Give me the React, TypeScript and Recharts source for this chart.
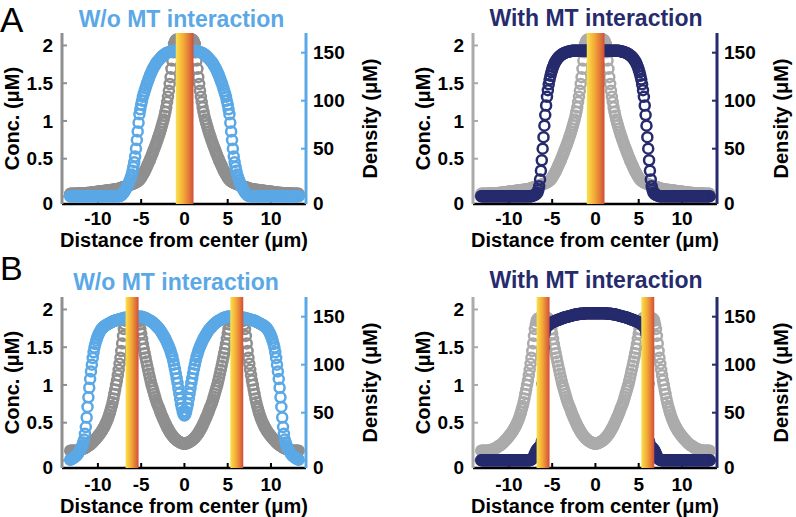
import React from 'react';
import { ScatterChart, Scatter, XAxis, YAxis, ReferenceArea } from 'recharts';

const FONT = '"Liberation Sans", Arial, Helvetica, sans-serif';

// distance from center (µm), shared by every series
const xs = [
  -13.2, -13.1, -13, -12.9, -12.8, -12.7, -12.6, -12.5, -12.4, -12.3,
  -12.2, -12.1, -12, -11.9, -11.8, -11.7, -11.6, -11.5, -11.4, -11.3,
  -11.2, -11.1, -11, -10.9, -10.8, -10.7, -10.6, -10.5, -10.4, -10.3,
  -10.2, -10.1, -10, -9.9, -9.8, -9.7, -9.6, -9.5, -9.4, -9.3,
  -9.2, -9.1, -9, -8.9, -8.8, -8.7, -8.6, -8.5, -8.4, -8.3,
  -8.2, -8.1, -8, -7.9, -7.8, -7.7, -7.6, -7.5, -7.4, -7.3,
  -7.2, -7.1, -7, -6.9, -6.8, -6.7, -6.6, -6.5, -6.4, -6.3,
  -6.2, -6.1, -6, -5.9, -5.8, -5.7, -5.6, -5.5, -5.4, -5.3,
  -5.2, -5.1, -5, -4.9, -4.8, -4.7, -4.6, -4.5, -4.4, -4.3,
  -4.2, -4.1, -4, -3.9, -3.8, -3.7, -3.6, -3.5, -3.4, -3.3,
  -3.2, -3.1, -3, -2.9, -2.8, -2.7, -2.6, -2.5, -2.4, -2.3,
  -2.2, -2.1, -2, -1.9, -1.8, -1.7, -1.6, -1.5, -1.4, -1.3,
  -1.2, -1.1, -1, -0.9, -0.8, -0.7, -0.6, -0.5, -0.4, -0.3,
  -0.2, -0.1,
  0,
  0.1, 0.2,
  0.3, 0.4, 0.5, 0.6, 0.7, 0.8, 0.9, 1, 1.1, 1.2,
  1.3, 1.4, 1.5, 1.6, 1.7, 1.8, 1.9, 2, 2.1, 2.2,
  2.3, 2.4, 2.5, 2.6, 2.7, 2.8, 2.9, 3, 3.1, 3.2,
  3.3, 3.4, 3.5, 3.6, 3.7, 3.8, 3.9, 4, 4.1, 4.2,
  4.3, 4.4, 4.5, 4.6, 4.7, 4.8, 4.9, 5, 5.1, 5.2,
  5.3, 5.4, 5.5, 5.6, 5.7, 5.8, 5.9, 6, 6.1, 6.2,
  6.3, 6.4, 6.5, 6.6, 6.7, 6.8, 6.9, 7, 7.1, 7.2,
  7.3, 7.4, 7.5, 7.6, 7.7, 7.8, 7.9, 8, 8.1, 8.2,
  8.3, 8.4, 8.5, 8.6, 8.7, 8.8, 8.9, 9, 9.1, 9.2,
  9.3, 9.4, 9.5, 9.6, 9.7, 9.8, 9.9, 10, 10.1, 10.2,
  10.3, 10.4, 10.5, 10.6, 10.7, 10.8, 10.9, 11, 11.1, 11.2,
  11.3, 11.4, 11.5, 11.6, 11.7, 11.8, 11.9, 12, 12.1, 12.2,
  12.3, 12.4, 12.5, 12.6, 12.7, 12.8, 12.9, 13, 13.1, 13.2,
];

// A: one MT at the center — concentration (µM)
const concA = [
  0.035, 0.035, 0.035, 0.035, 0.036, 0.036, 0.037, 0.037, 0.038, 0.038,
  0.039, 0.039, 0.04, 0.04, 0.041, 0.042, 0.042, 0.043, 0.044, 0.045,
  0.046, 0.047, 0.048, 0.049, 0.05, 0.051, 0.052, 0.054, 0.056, 0.058,
  0.06, 0.061, 0.063, 0.064, 0.066, 0.067, 0.069, 0.07, 0.072, 0.073,
  0.075, 0.076, 0.078, 0.079, 0.081, 0.082, 0.084, 0.085, 0.087, 0.088,
  0.09, 0.092, 0.094, 0.096, 0.098, 0.1, 0.103, 0.106, 0.11, 0.114,
  0.118, 0.122, 0.126, 0.13, 0.134, 0.138, 0.142, 0.146, 0.15, 0.154,
  0.158, 0.162, 0.166, 0.17, 0.175, 0.18, 0.186, 0.192, 0.2, 0.21,
  0.22, 0.235, 0.25, 0.27, 0.29, 0.31, 0.33, 0.355, 0.38, 0.405,
  0.43, 0.455, 0.48, 0.51, 0.54, 0.57, 0.6, 0.63, 0.66, 0.69,
  0.72, 0.755, 0.79, 0.825, 0.86, 0.9, 0.94, 0.98, 1.02, 1.07,
  1.12, 1.18, 1.25, 1.32, 1.4, 1.49, 1.58, 1.69, 1.8, 1.91,
  2.02, 2.05, 2.07, 2.08, 2.08, 2.08, 2.08, 2.08, 2.08, 2.08,
  2.08, 2.08,
  2.08,
  2.08, 2.08,
  2.08, 2.08, 2.08, 2.08, 2.08, 2.08, 2.08, 2.07, 2.05, 2.02,
  1.91, 1.8, 1.69, 1.58, 1.49, 1.4, 1.32, 1.25, 1.18, 1.12,
  1.07, 1.02, 0.98, 0.94, 0.9, 0.86, 0.825, 0.79, 0.755, 0.72,
  0.69, 0.66, 0.63, 0.6, 0.57, 0.54, 0.51, 0.48, 0.455, 0.43,
  0.405, 0.38, 0.355, 0.33, 0.31, 0.29, 0.27, 0.25, 0.235, 0.22,
  0.21, 0.2, 0.192, 0.186, 0.18, 0.175, 0.17, 0.166, 0.162, 0.158,
  0.154, 0.15, 0.146, 0.142, 0.138, 0.134, 0.13, 0.126, 0.122, 0.118,
  0.114, 0.11, 0.106, 0.103, 0.1, 0.098, 0.096, 0.094, 0.092, 0.09,
  0.088, 0.087, 0.085, 0.084, 0.082, 0.081, 0.079, 0.078, 0.076, 0.075,
  0.073, 0.072, 0.07, 0.069, 0.067, 0.066, 0.064, 0.063, 0.061, 0.06,
  0.058, 0.056, 0.054, 0.052, 0.051, 0.05, 0.049, 0.048, 0.047, 0.046,
  0.045, 0.044, 0.043, 0.042, 0.042, 0.041, 0.04, 0.04, 0.039, 0.039,
  0.038, 0.038, 0.037, 0.037, 0.036, 0.036, 0.035, 0.035, 0.035, 0.035,
];

// A: density (µM) without MT interaction
const densAwo = [
  0.5, 0.5, 0.5, 0.5, 0.5, 0.5, 0.5, 0.5, 0.5, 0.5,
  0.5, 0.5, 0.5, 0.5, 0.5, 0.5, 0.5, 0.5, 0.5, 0.5,
  0.5, 0.5, 0.5, 0.5, 0.5, 0.5, 0.5, 0.5, 0.5, 0.5,
  0.5, 0.5, 0.5, 0.5, 0.5, 0.5, 0.5, 0.5, 0.5, 0.5,
  0.5, 0.5, 0.5, 0.5, 0.5, 0.5, 0.5, 0.5, 0.5, 0.5,
  0.5, 0.5, 0.5, 0.5, 0.5, 0.5, 0.5, 0.7, 1, 1.5,
  2.5, 3.5, 4.5, 6, 7.5, 9, 11, 13, 15, 17.5,
  20, 23, 27, 31, 36, 42, 50, 59, 68, 77,
  86, 91, 96, 100, 104, 107, 110, 113, 116, 118.5,
  121, 123.5, 126, 128, 130, 132, 134, 135.5, 137, 138.5,
  140, 141, 142, 143, 144, 145, 146, 147, 147.5, 148.2,
  149, 149.5, 150, 150.2, 150.5, 150.8, 151, 151.2, 151.5, 151.8,
  152, 152, 152, 152, 152, 152, 152, 152, 152, 152,
  152, 152,
  152,
  152, 152,
  152, 152, 152, 152, 152, 152, 152, 152, 152, 152,
  151.8, 151.5, 151.2, 151, 150.8, 150.5, 150.2, 150, 149.5, 149,
  148.2, 147.5, 147, 146, 145, 144, 143, 142, 141, 140,
  138.5, 137, 135.5, 134, 132, 130, 128, 126, 123.5, 121,
  118.5, 116, 113, 110, 107, 104, 100, 96, 91, 86,
  77, 68, 59, 50, 42, 36, 31, 27, 23, 20,
  17.5, 15, 13, 11, 9, 7.5, 6, 4.5, 3.5, 2.5,
  1.5, 1, 0.7, 0.5, 0.5, 0.5, 0.5, 0.5, 0.5, 0.5,
  0.5, 0.5, 0.5, 0.5, 0.5, 0.5, 0.5, 0.5, 0.5, 0.5,
  0.5, 0.5, 0.5, 0.5, 0.5, 0.5, 0.5, 0.5, 0.5, 0.5,
  0.5, 0.5, 0.5, 0.5, 0.5, 0.5, 0.5, 0.5, 0.5, 0.5,
  0.5, 0.5, 0.5, 0.5, 0.5, 0.5, 0.5, 0.5, 0.5, 0.5,
  0.5, 0.5, 0.5, 0.5, 0.5, 0.5, 0.5, 0.5, 0.5, 0.5,
];

// A: density (µM) with MT interaction
const densAwith = [
  0.5, 0.5, 0.5, 0.5, 0.5, 0.5, 0.5, 0.5, 0.5, 0.5,
  0.5, 0.5, 0.5, 0.5, 0.5, 0.5, 0.5, 0.5, 0.5, 0.5,
  0.5, 0.5, 0.5, 0.5, 0.5, 0.5, 0.5, 0.5, 0.5, 0.5,
  0.5, 0.5, 0.5, 0.5, 0.5, 0.5, 0.5, 0.5, 0.5, 0.5,
  0.5, 0.5, 0.5, 0.5, 0.5, 0.5, 0.5, 0.5, 0.5, 0.5,
  0.5, 0.5, 0.5, 0.5, 0.5, 0.5, 0.5, 0.5, 0.6, 0.8,
  1.2, 1.5, 2, 2.5, 3.2, 4.5, 7, 11, 18, 27,
  38, 50, 62, 74, 85, 95, 104, 111, 117, 122,
  126, 129.5, 132.5, 135, 137.5, 139.5, 141, 142.5, 143.7, 144.8,
  145.8, 146.6, 147.3, 148, 148.6, 149.1, 149.6, 150, 150.3, 150.6,
  150.9, 151.1, 151.3, 151.5, 151.7, 151.9, 152, 152, 152, 152,
  152, 152, 152, 152, 152, 152, 152, 152, 152, 152,
  152, 152, 152, 152, 152, 152, 152, 152, 152, 152,
  152, 152,
  152,
  152, 152,
  152, 152, 152, 152, 152, 152, 152, 152, 152, 152,
  152, 152, 152, 152, 152, 152, 152, 152, 152, 152,
  152, 152, 152, 152, 151.9, 151.7, 151.5, 151.3, 151.1, 150.9,
  150.6, 150.3, 150, 149.6, 149.1, 148.6, 148, 147.3, 146.6, 145.8,
  144.8, 143.7, 142.5, 141, 139.5, 137.5, 135, 132.5, 129.5, 126,
  122, 117, 111, 104, 95, 85, 74, 62, 50, 38,
  27, 18, 11, 7, 4.5, 3.2, 2.5, 2, 1.5, 1.2,
  0.8, 0.6, 0.5, 0.5, 0.5, 0.5, 0.5, 0.5, 0.5, 0.5,
  0.5, 0.5, 0.5, 0.5, 0.5, 0.5, 0.5, 0.5, 0.5, 0.5,
  0.5, 0.5, 0.5, 0.5, 0.5, 0.5, 0.5, 0.5, 0.5, 0.5,
  0.5, 0.5, 0.5, 0.5, 0.5, 0.5, 0.5, 0.5, 0.5, 0.5,
  0.5, 0.5, 0.5, 0.5, 0.5, 0.5, 0.5, 0.5, 0.5, 0.5,
  0.5, 0.5, 0.5, 0.5, 0.5, 0.5, 0.5, 0.5, 0.5, 0.5,
];

// B: two MTs — concentration (µM)
const concB = [
  0.13, 0.13, 0.13, 0.13, 0.13, 0.13, 0.13, 0.13, 0.13, 0.13,
  0.135, 0.137, 0.14, 0.145, 0.15, 0.155, 0.16, 0.165, 0.17, 0.18,
  0.19, 0.195, 0.2, 0.21, 0.22, 0.23, 0.24, 0.255, 0.27, 0.28,
  0.29, 0.305, 0.32, 0.335, 0.35, 0.365, 0.38, 0.4, 0.42, 0.44,
  0.46, 0.485, 0.51, 0.54, 0.57, 0.605, 0.64, 0.68, 0.72, 0.77,
  0.82, 0.88, 0.94, 1.0, 1.06, 1.13, 1.2, 1.28, 1.36, 1.45,
  1.55, 1.65, 1.74, 1.8, 1.85, 1.87, 1.88, 1.885, 1.89, 1.895,
  1.9, 1.9, 1.9, 1.9, 1.9, 1.895, 1.89, 1.88, 1.87, 1.84,
  1.8, 1.74, 1.68, 1.61, 1.54, 1.48, 1.42, 1.365, 1.31, 1.255,
  1.2, 1.15, 1.1, 1.05, 1.0, 0.96, 0.92, 0.88, 0.84, 0.805,
  0.77, 0.74, 0.71, 0.68, 0.65, 0.62, 0.59, 0.565, 0.54, 0.515,
  0.49, 0.465, 0.44, 0.42, 0.4, 0.38, 0.36, 0.345, 0.33, 0.315,
  0.3, 0.29, 0.28, 0.27, 0.26, 0.252, 0.245, 0.24, 0.235, 0.23,
  0.225, 0.222,
  0.22,
  0.222, 0.225,
  0.23, 0.235, 0.24, 0.245, 0.252, 0.26, 0.27, 0.28, 0.29, 0.3,
  0.315, 0.33, 0.345, 0.36, 0.38, 0.4, 0.42, 0.44, 0.465, 0.49,
  0.515, 0.54, 0.565, 0.59, 0.62, 0.65, 0.68, 0.71, 0.74, 0.77,
  0.805, 0.84, 0.88, 0.92, 0.96, 1.0, 1.05, 1.1, 1.15, 1.2,
  1.255, 1.31, 1.365, 1.42, 1.48, 1.54, 1.61, 1.68, 1.74, 1.8,
  1.84, 1.87, 1.88, 1.89, 1.895, 1.9, 1.9, 1.9, 1.9, 1.9,
  1.895, 1.89, 1.885, 1.88, 1.87, 1.85, 1.8, 1.74, 1.65, 1.55,
  1.45, 1.36, 1.28, 1.2, 1.13, 1.06, 1.0, 0.94, 0.88, 0.82,
  0.77, 0.72, 0.68, 0.64, 0.605, 0.57, 0.54, 0.51, 0.485, 0.46,
  0.44, 0.42, 0.4, 0.38, 0.365, 0.35, 0.335, 0.32, 0.305, 0.29,
  0.28, 0.27, 0.255, 0.24, 0.23, 0.22, 0.21, 0.2, 0.195, 0.19,
  0.18, 0.17, 0.165, 0.16, 0.155, 0.15, 0.145, 0.14, 0.137, 0.135,
  0.13, 0.13, 0.13, 0.13, 0.13, 0.13, 0.13, 0.13, 0.13, 0.13,
];

// B: density (µM) without MT interaction
const densBwo = [
  1, 1.5, 2, 2.5, 3, 3.7, 4.5, 5.2, 6, 7.5,
  9, 10.5, 12, 14, 16, 19, 22, 28, 35, 45,
  56, 66, 76, 85, 93, 100, 107, 113, 118, 121.5,
  125, 127.5, 130, 132, 134, 135.5, 137, 138, 139, 139.8,
  140.5, 141, 141.5, 142, 142.5, 143, 143.5, 144, 144.5, 145,
  145.5, 145.8, 146, 146.3, 146.5, 146.8, 147, 147.2, 147.5, 147.8,
  148, 148.2, 148.5, 148.8, 149, 149, 149, 149.2, 149.5, 149.5,
  149.5, 149.8, 150, 150, 150, 150, 150, 150, 150, 150,
  150, 150, 150, 149.8, 149.5, 149.2, 149, 148.5, 148, 147.5,
  147, 146.5, 146, 145.5, 145, 144.2, 143.5, 142.8, 142, 141,
  140, 139, 138, 137, 136, 134.5, 133, 131.5, 130, 128.5,
  127, 125, 123, 121, 119, 116.5, 114, 111, 108, 104,
  100, 95.5, 91, 86, 81, 75.5, 70, 64.5, 59, 55,
  51, 48.5,
  47,
  48.5, 51,
  55, 59, 64.5, 70, 75.5, 81, 86, 91, 95.5, 100,
  104, 108, 111, 114, 116.5, 119, 121, 123, 125, 127,
  128.5, 130, 131.5, 133, 134.5, 136, 137, 138, 139, 140,
  141, 142, 142.8, 143.5, 144.2, 145, 145.5, 146, 146.5, 147,
  147.5, 148, 148.5, 149, 149.2, 149.5, 149.8, 150, 150, 150,
  150, 150, 150, 150, 150, 150, 150, 150, 149.8, 149.5,
  149.5, 149.5, 149.2, 149, 149, 149, 148.8, 148.5, 148.2, 148,
  147.8, 147.5, 147.2, 147, 146.8, 146.5, 146.3, 146, 145.8, 145.5,
  145, 144.5, 144, 143.5, 143, 142.5, 142, 141.5, 141, 140.5,
  139.8, 139, 138, 137, 135.5, 134, 132, 130, 127.5, 125,
  121.5, 118, 113, 107, 100, 93, 85, 76, 66, 56,
  45, 35, 28, 22, 19, 16, 14, 12, 10.5, 9,
  7.5, 6, 5.2, 4.5, 3.7, 3, 2.5, 2, 1.5, 1,
];

// B: density (µM) with MT interaction
const densBwith = [
  0.5, 0.5, 0.5, 0.5, 0.5, 0.5, 0.5, 0.5, 0.5, 0.5,
  0.5, 0.5, 0.5, 0.5, 0.5, 0.5, 0.5, 0.5, 0.5, 0.5,
  0.5, 0.5, 0.5, 0.5, 0.5, 0.5, 0.5, 0.5, 0.5, 0.5,
  0.5, 0.5, 0.5, 0.5, 0.5, 0.5, 0.5, 0.5, 0.5, 0.5,
  0.5, 0.5, 0.5, 0.5, 0.5, 0.5, 0.5, 0.5, 0.5, 0.5,
  0.5, 0.5, 0.5, 0.5, 0.5, 0.5, 0.5, 0.8, 1.2, 2,
  3, 4.5, 7, 9, 11, 12, 13, 14, 14, 16,
  20, 80, 118, 132, 136.5, 139, 140.5, 141.2, 141.8, 142.4,
  143, 143.5, 144, 144.5, 145, 145.3, 145.5, 146, 146.5, 146.8,
  147, 147.3, 147.5, 148, 148.5, 148.8, 149, 149.3, 149.5, 149.8,
  150, 150.3, 150.5, 150.8, 151, 151.3, 151.5, 151.8, 152, 152.3,
  152.5, 152.5, 152.5, 152.8, 153, 153, 153, 153, 153, 153.2,
  153.5, 153.5, 153.5, 153.5, 153.5, 153.5, 153.5, 153.5, 153.5, 153.5,
  153.5, 153.5,
  153.5,
  153.5, 153.5,
  153.5, 153.5, 153.5, 153.5, 153.5, 153.5, 153.5, 153.5, 153.5, 153.5,
  153.2, 153, 153, 153, 153, 153, 152.8, 152.5, 152.5, 152.5,
  152.3, 152, 151.8, 151.5, 151.3, 151, 150.8, 150.5, 150.3, 150,
  149.8, 149.5, 149.3, 149, 148.8, 148.5, 148, 147.5, 147.3, 147,
  146.8, 146.5, 146, 145.5, 145.3, 145, 144.5, 144, 143.5, 143,
  142.4, 141.8, 141.2, 140.5, 139, 136.5, 132, 118, 80, 20,
  16, 14, 14, 13, 12, 11, 9, 7, 4.5, 3,
  2, 1.2, 0.8, 0.5, 0.5, 0.5, 0.5, 0.5, 0.5, 0.5,
  0.5, 0.5, 0.5, 0.5, 0.5, 0.5, 0.5, 0.5, 0.5, 0.5,
  0.5, 0.5, 0.5, 0.5, 0.5, 0.5, 0.5, 0.5, 0.5, 0.5,
  0.5, 0.5, 0.5, 0.5, 0.5, 0.5, 0.5, 0.5, 0.5, 0.5,
  0.5, 0.5, 0.5, 0.5, 0.5, 0.5, 0.5, 0.5, 0.5, 0.5,
  0.5, 0.5, 0.5, 0.5, 0.5, 0.5, 0.5, 0.5, 0.5, 0.5,
];

// microtubule positions (µm)
const mtA: [number, number][] = [[-1, 1.05]];
const mtB: [number, number][] = [[-6.8, -5.3], [5.3, 6.8]];

const xTicks = [-10, -5, 0, 5, 10];
const concTicks = [0, 0.5, 1, 1.5, 2];
const densTicks = [0, 50, 100, 150];

const xDomain: [number, number] = [-14.15, 14.05];
const concDomain: [number, number] = [-0.1, 2.165];
const densDomain: [number, number] = [-7.6, 170.5];

const LIGHT_BLUE = '#5ba8e6';
const NAVY = '#262b6d';
const GRAY_DARK = '#8f8f8f';
const GRAY_LIGHT = '#ababab';

const txt = { fontFamily: FONT, fontSize: 19, fontWeight: 700, fill: '#000' };

const XTick = (p: any) => (
  <text x={p.x} y={p.y} dy="0.35em" textAnchor="middle" {...txt}>{String(p.payload.value)}</text>
);
const LeftTick = (p: any) => (
  <text x={p.x} y={p.y + (p.payload.value === 0 ? 7 : 0)} dy="0.35em" textAnchor="end" {...txt}>{String(p.payload.value)}</text>
);
const RightTick = (p: any) => (
  <text x={p.x} y={p.y + (p.payload.value === 0 ? 7 : 0)} dy="0.35em" textAnchor="start" {...txt}>{String(p.payload.value)}</text>
);

const ring = (color: string) => (p: any) => (
  <circle cx={p.cx} cy={p.cy} r={5} fill="none" stroke={color} strokeWidth={2.5} />
);

const axisLabel = { fill: '#000', fontSize: 20, fontWeight: 700, fontFamily: FONT };
const W = 400;
const PLOT_BOTTOM_FROM_TOP = 204; // 33 top margin + 171 plot height
const MARGIN = { top: 33, right: 4, bottom: 0, left: 0 };

function Panel({ conc, dens, gray, color, mts, gid, h, tickGap, labelOffset }: {
  conc: number[]; dens: number[]; gray: string; color: string; mts: [number, number][];
  gid: string; h: number; tickGap: number; labelOffset: number;
}) {
  const concData = xs.map((x, i) => ({ x, y: conc[i] }));
  const densData = xs.map((x, i) => ({ x, y: dens[i] }));
  const axisH = h - PLOT_BOTTOM_FROM_TOP;
  return (
    <div style={{ position: 'relative', width: W, height: h }}>
      <div style={{ position: 'absolute', left: 0, top: 0 }}>
        <ScatterChart width={W} height={h} margin={MARGIN}>
          <XAxis
            type="number" dataKey="x" domain={xDomain} ticks={xTicks} allowDataOverflow interval={0}
            height={axisH} axisLine={{ stroke: '#000', strokeWidth: 2.5 }}
            tickLine={{ stroke: '#000', strokeWidth: 2 }} tickSize={-5} tickMargin={tickGap} tick={XTick}
            label={{ value: 'Distance from center (μm)', position: 'insideBottom', offset: labelOffset, ...axisLabel }}
          />
          <YAxis
            yAxisId="left" type="number" dataKey="y" domain={concDomain} ticks={concTicks} allowDataOverflow interval={0}
            width={62} axisLine={{ stroke: gray, strokeWidth: 3 }}
            tickLine={{ stroke: gray, strokeWidth: 2 }} tickSize={-5} tickMargin={14} tick={LeftTick}
            label={{ value: 'Conc. (μM)', angle: -90, position: 'insideLeft', offset: 12, style: { textAnchor: 'middle' }, ...axisLabel }}
          />
          <YAxis
            yAxisId="right" orientation="right" type="number" dataKey="y" domain={densDomain} ticks={densTicks} allowDataOverflow interval={0}
            width={90} axisLine={{ stroke: color, strokeWidth: 3 }}
            tickLine={{ stroke: color, strokeWidth: 2 }} tickSize={-5} tickMargin={12} tick={RightTick}
            label={{ value: 'Density (μM)', angle: -90, position: 'insideRight', offset: 26, style: { textAnchor: 'middle' }, ...axisLabel }}
          />
          <Scatter yAxisId="left" data={concData} shape={ring(gray)} isAnimationActive={false} />
          <Scatter yAxisId="right" data={densData} shape={ring(color)} isAnimationActive={false} />
        </ScatterChart>
      </div>
      {/* MT bars drawn in a second, identical chart so they sit above the markers */}
      <div style={{ position: 'absolute', left: 0, top: 0 }}>
        <ScatterChart width={W} height={h} margin={MARGIN}>
          <defs>
            <linearGradient id={gid} x1="0" y1="0" x2="1" y2="0">
              <stop offset="0%" stopColor="#f9e24e" />
              <stop offset="45%" stopColor="#f3a836" />
              <stop offset="100%" stopColor="#d24e3b" />
            </linearGradient>
          </defs>
          <XAxis type="number" dataKey="x" domain={xDomain} allowDataOverflow height={axisH} tick={false} axisLine={false} tickLine={false} />
          <YAxis yAxisId="left" type="number" dataKey="y" domain={concDomain} allowDataOverflow width={62} tick={false} axisLine={false} tickLine={false} />
          <YAxis yAxisId="right" orientation="right" type="number" dataKey="y" domain={densDomain} allowDataOverflow width={90} tick={false} axisLine={false} tickLine={false} />
          <Scatter yAxisId="left" data={[]} isAnimationActive={false} />
          {mts.map(([a, b], k) => (
            <ReferenceArea key={k} yAxisId="left" x1={a} x2={b} fill={`url(#${gid})`} fillOpacity={1} stroke="none" />
          ))}
        </ScatterChart>
      </div>
    </div>
  );
}

export default function App() {
  return (
    <div style={{ position: 'absolute', left: 0, top: 0, width: 796, height: 517, background: '#fff', fontFamily: FONT, overflow: 'hidden' }}>
      <div style={{ position: 'absolute', left: 0, top: 0 }}>
        <Panel conc={concA} dens={densAwo} gray={GRAY_DARK} color={LIGHT_BLUE} mts={mtA} gid="mtA1" h={252} tickGap={19} labelOffset={5} />
      </div>
      <div style={{ position: 'absolute', left: 411, top: 0 }}>
        <Panel conc={concA} dens={densAwith} gray={GRAY_LIGHT} color={NAVY} mts={mtA} gid="mtA2" h={252} tickGap={19} labelOffset={5} />
      </div>
      <div style={{ position: 'absolute', left: 0, top: 264 }}>
        <Panel conc={concB} dens={densBwo} gray={GRAY_DARK} color={LIGHT_BLUE} mts={mtB} gid="mtB1" h={253} tickGap={21} labelOffset={4} />
      </div>
      <div style={{ position: 'absolute', left: 411, top: 264 }}>
        <Panel conc={concB} dens={densBwith} gray={GRAY_LIGHT} color={NAVY} mts={mtB} gid="mtB2" h={253} tickGap={21} labelOffset={4} />
      </div>
      <svg width={796} height={517} style={{ position: 'absolute', left: 0, top: 0, pointerEvents: 'none' }}>
        <text x={0} y={31.5} fontFamily={FONT} fontSize={35}>A</text>
        <text x={0} y={280} fontFamily={FONT} fontSize={34}>B</text>
        <text x={181.5} y={26.5} textAnchor="middle" fontFamily={FONT} fontSize={23} fontWeight={700} fill={LIGHT_BLUE}>W/o MT interaction</text>
        <text x={596} y={26} textAnchor="middle" fontFamily={FONT} fontSize={23} fontWeight={700} fill={NAVY}>With MT interaction</text>
        <text x={176} y={290} textAnchor="middle" fontFamily={FONT} fontSize={23} fontWeight={700} fill={LIGHT_BLUE}>W/o MT interaction</text>
        <text x={596} y={288} textAnchor="middle" fontFamily={FONT} fontSize={23} fontWeight={700} fill={NAVY}>With MT interaction</text>
      </svg>
    </div>
  );
}
